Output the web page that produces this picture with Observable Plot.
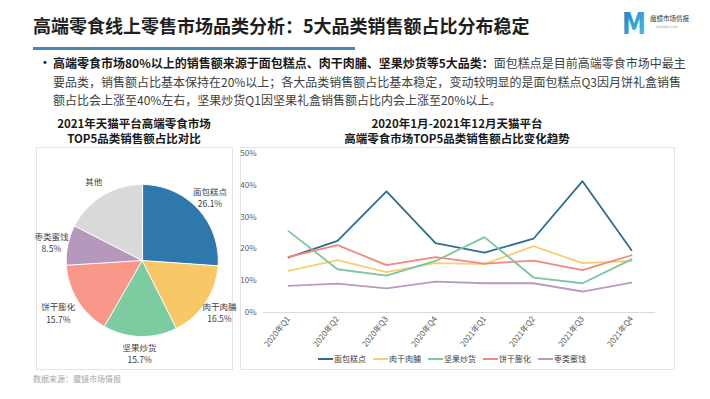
<!DOCTYPE html>
<html>
<head>
<meta charset="utf-8">
<script src="https://cdn.jsdelivr.net/npm/d3@7"></script>
<script src="https://cdn.jsdelivr.net/npm/@observablehq/plot@0.6"></script>
<style>
  html, body { margin: 0; padding: 0; background: #fff; }
  body { width: 710px; height: 399px; position: relative; overflow: hidden;
         font-family: "Noto Sans CJK SC", "Noto Sans", sans-serif; color: #404040; }
  .abs { position: absolute; white-space: nowrap; }
  #title { left: 33px; top: 14px; font-size: 18px; line-height: 22px; font-weight: 700; color: #1f1f1f; }
  #uline { left: 33px; top: 47px; width: 322px; height: 3px; background: #4a86ad; }
  #bullet { left: 42px; top: 54px; font-family: "DejaVu Sans", sans-serif; font-size: 10px; line-height: 18.5px; color: #1a1a1a; }
  #btext { left: 53px; top: 54px; font-size: 12px; line-height: 18.5px; color: #404040; }
  #btext b { color: #1a1a1a; font-weight: 700; }
  .ctitle { font-size: 11.5px; line-height: 15px; font-weight: 700; color: #1a1a1a; text-align: center; }
  .box { border: 1px solid #e4e4e4; box-sizing: border-box; }
  #source { left: 33px; top: 373px; font-size: 8px; color: #a6a6a6; }
  #legend { left: 318px; top: 353px; display: flex; gap: 7px; font-size: 8px; color: #404040; }
  #legend .it { display: flex; align-items: center; gap: 1px; }
</style>
</head>
<body>
<script>
// ---------------- data ----------------
const pieCats = ["面包糕点", "肉干肉脯", "坚果炒货", "饼干膨化", "枣类蜜饯", "其他"];
const pieVals = [26.1, 16.5, 15.7, 15.7, 8.5, 17.5];
const pieColors = ["#2e78ab", "#f8c766", "#7dcba0", "#f8978a", "#b798bd", "#d9d9d9"];

const quarters = ["2020年Q1", "2020年Q2", "2020年Q3", "2020年Q4", "2021年Q1", "2021年Q2", "2021年Q3", "2021年Q4"];
const seriesNames = ["面包糕点", "肉干肉脯", "坚果炒货", "饼干膨化", "枣类蜜饯"];
const bread   = [17.3, 22.5, 38.1, 21.8, 18.8, 23.2, 41.3, 19.6];
const jerky   = [13.1, 16.5, 12.7, 15.5, 15.2, 20.9, 15.5, 16.2];
const nuts    = [25.6, 13.6, 11.6, 16.2, 23.7, 11.0, 9.2, 16.7];
const biscuit = [17.5, 21.2, 14.9, 17.4, 15.4, 16.3, 13.3, 18.0];
const dates   = [8.4, 9.1, 7.6, 9.7, 9.2, 9.2, 6.6, 9.4];
const lineColors = ["#2f6e8f", "#f7cf72", "#7cc6a0", "#f08a7e", "#b99bbf"];
const yTicks = [0, 10, 20, 30, 40, 50];

const FONT = '"Noto Sans CJK SC", "Noto Sans", sans-serif';

function place(el, left, top) {
  el.style.position = "absolute";
  el.style.left = left + "px";
  el.style.top = top + "px";
  document.body.appendChild(el);
  return el;
}
function div(cls, html, css) {
  const d = document.createElement("div");
  d.className = cls;
  d.innerHTML = html;
  Object.assign(d.style, css || {});
  document.body.appendChild(d);
  return d;
}

// ---------------- header ----------------
div("abs", "高端零食线上零售市场品类分析：5大品类销售额占比分布稳定").id = "title";
div("abs", "").id = "uline";
div("abs", "•").id = "bullet";
div("abs",
  "<b>高端零食市场80%以上的销售额来源于面包糕点、肉干肉脯、坚果炒货等5大品类：</b>面包糕点是目前高端零食市场中最主<br>" +
  "要品类，销售额占比基本保持在20%以上；各大品类销售额占比基本稳定，变动较明显的是面包糕点Q3因月饼礼盒销售<br>" +
  "额占比会上涨至40%左右，坚果炒货Q1因坚果礼盒销售额占比内会上涨至20%以上。").id = "btext";

// logo
div("abs",
  `<svg width="92" height="40" viewBox="0 0 92 40">
     <defs><linearGradient id="lg" x1="0" x2="1" y1="0" y2="1">
       <stop offset="0" stop-color="#1b7fc4"/><stop offset="1" stop-color="#4cc3e6"/></linearGradient></defs>
     <text x="12" y="32" font-family="DejaVu Sans" font-weight="700" font-size="30" fill="url(#lg)" textLength="24" lengthAdjust="spacingAndGlyphs">M</text>
     <text x="40" y="19" font-family='${FONT}' font-size="6.5" fill="#333">魔镜市场情报</text>
     <text x="46" y="26" font-family="DejaVu Sans" font-size="3" fill="#999">MOOJING.COM</text>
   </svg>`, { left: "610px", top: "2px" });

// ---------------- boxes & titles ----------------
div("abs box", "", { left: "36px", top: "147px", width: "197px", height: "223px" });
div("abs box", "", { left: "240px", top: "147px", width: "435px", height: "223px" });
div("abs ctitle", "2021年天猫平台高端零食市场<br>TOP5品类销售额占比对比", { left: "34px", top: "116px", width: "200px" });
div("abs ctitle", "2020年1月-2021年12月天猫平台<br>高端零食市场TOP5品类销售额占比变化趋势", { left: "307px", top: "116px", width: "300px" });
div("abs", "数据来源：魔镜市场情报").id = "source";

// ---------------- pie (Plot) ----------------
const total = d3.sum(pieVals);
let acc = 0;
const polys = [];
const labels = [];
pieCats.forEach((c, i) => {
  const a0 = acc / total * 2 * Math.PI;
  acc += pieVals[i];
  const a1 = acc / total * 2 * Math.PI;
  polys.push({ cat: c, x: 0, y: 0 });
  const n = Math.max(2, Math.ceil((a1 - a0) / (Math.PI / 180)));
  for (let k = 0; k <= n; k++) {
    const a = a0 + (a1 - a0) * k / n;
    polys.push({ cat: c, x: Math.sin(a), y: Math.cos(a) });
  }
  const am = (a0 + a1) / 2;
  const rl = c === "饼干膨化" ? 1.3 : 1.22;
  labels.push({
    x: rl * Math.sin(am), y: rl * Math.cos(am),
    text: c === "其他" ? c : c + "\n" + pieVals[i].toFixed(1) + "%"
  });
});

const pie = Plot.plot({
  width: 197, height: 223,
  margin: 0,
  style: { fontFamily: FONT, background: "transparent", overflow: "visible" },
  x: { domain: [-1.391, 1.201], axis: null },
  y: { domain: [-1.447, 1.487], axis: null },
  color: { domain: pieCats, range: pieColors },
  marks: [
    Plot.line(polys, { x: "x", y: "y", z: "cat", fill: "cat", stroke: "#ffffff", strokeWidth: 1, curve: "linear-closed" }),
    Plot.text(labels, { x: "x", y: "y", text: "text", fontSize: 8.5, fill: "#404040", lineHeight: 1.45 })
  ]
});
place(pie, 36, 147);

// ---------------- line chart (Plot) ----------------
const allSeries = [bread, jerky, nuts, biscuit, dates];
const rows = [];
allSeries.forEach((vals, si) => vals.forEach((v, i) => rows.push({ q: quarters[i], v, s: seriesNames[si] })));

const line = Plot.plot({
  width: 435, height: 200,
  marginTop: 6, marginBottom: 35, marginLeft: 23, marginRight: 20,
  style: { fontFamily: FONT, fontSize: "8px", color: "#595959", background: "transparent", overflow: "visible" },
  x: { type: "point", domain: quarters, padding: 0.5, label: null, tickSize: 0, tickRotate: -52, tickPadding: 5 },
  y: { domain: [0, 50], ticks: yTicks, tickFormat: d => d + "%", label: null, tickSize: 0, tickPadding: 7 },
  color: { domain: seriesNames, range: lineColors },
  marks: [
    Plot.ruleY([0], { stroke: "#d9d9d9" }),
    Plot.line(rows, { x: "q", y: "v", z: "s", stroke: "s", strokeWidth: 1.8 })
  ]
});
place(line, 240, 147);

// legend
const lg = div("abs", "");
lg.id = "legend";
seriesNames.forEach((n, i) => {
  const it = document.createElement("div");
  it.className = "it";
  it.innerHTML = `<svg width="15" height="6"><line x1="0" x2="15" y1="3" y2="3" stroke="${lineColors[i]}" stroke-width="2"/></svg><span>${n}</span>`;
  lg.appendChild(it);
});
</script>
</body>
</html>
